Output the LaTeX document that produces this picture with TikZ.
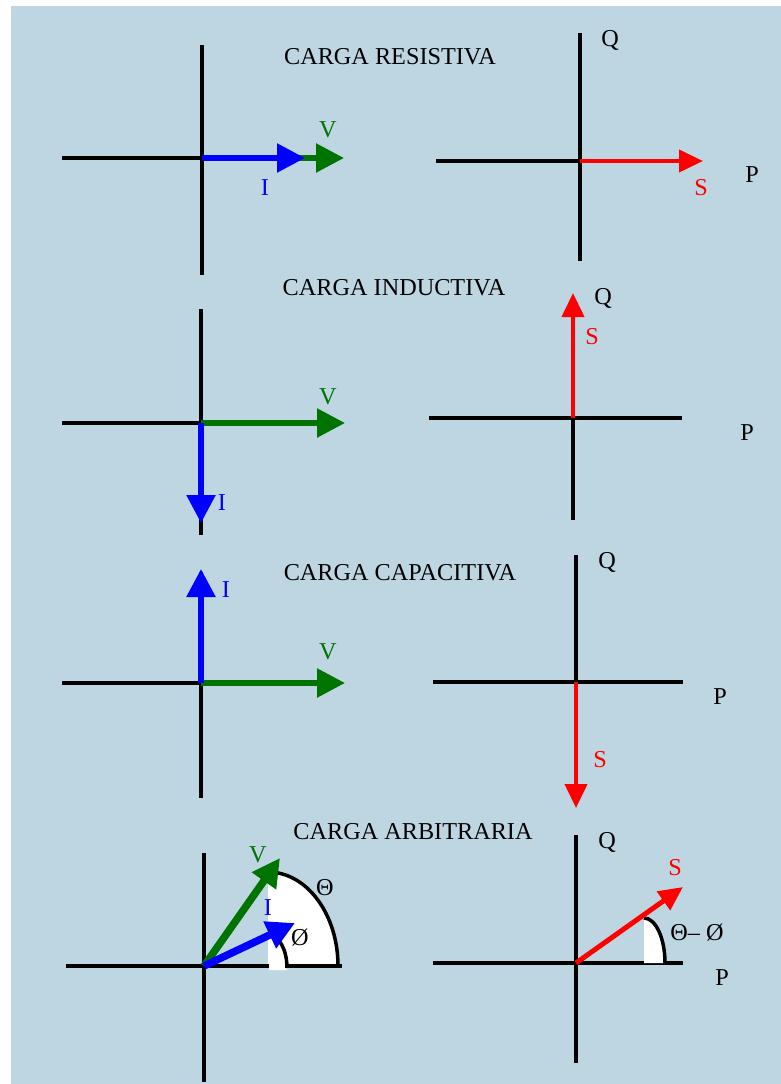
\documentclass[tikz,border=0pt]{standalone}
\usepackage{fontspec}
\setmainfont{Liberation Serif}
\usetikzlibrary{arrows.meta}
\definecolor{fondo}{RGB}{190,214,226}
\definecolor{verde}{RGB}{0,115,0}
\begin{document}
\begin{tikzpicture}[x=0.2mm, y=0.2mm,
 eje/.style={line width=0.8mm},
 vec/.style={line width=1.1mm, -{Triangle[length=5.6mm, width=5.6mm]}},
 svec/.style={line width=0.8mm, red, -{Triangle[length=4.8mm, width=4.4mm]}},
 ang/.style={line width=0.7mm},
 lbl/.style={font=\fontsize{13.8}{16}\selectfont, inner sep=0pt},
]
\useasboundingbox (0,0) rectangle (781,-1084);
\fill[fondo] (11,-6) rectangle (781,-1084);

% carga resistiva
\node[lbl] (tres) at (390,-57) {CARGA RESISTIVA};
\coordinate (ores) at (202,-158);
\coordinate (vres) at (344,-158);
\coordinate (ires) at (305,-158);
\coordinate (pres) at (580,-161);
\coordinate (sres) at (703,-161);
\draw[eje] (202,-45) -- (202,-275);
\draw[eje] (62,-158) -- (ores);
\draw[vec, verde] (ores) -- (vres);
\draw[vec, blue] (ores) -- (ires);
\node[lbl, text=verde] (vlres) at (328,-130) {V};
\node[lbl, text=blue] (ilres) at (265,-188) {I};
\draw[eje] (580,-33) -- (580,-261);
\draw[eje] (436,-161) -- (pres);
\draw[svec] (pres) -- (sres);
\node[lbl] (qres) at (610,-40) {Q};
\node[lbl, text=red] (slres) at (701,-188) {S};
\node[lbl] (plres) at (752,-175) {P};

% carga inductiva
\node[lbl] (tind) at (394,-288) {CARGA INDUCTIVA};
\coordinate (oind) at (201,-423);
\coordinate (vind) at (345,-423);
\coordinate (iind) at (201,-523);
\coordinate (pind) at (573,-418);
\coordinate (sind) at (573,-293);
\draw[eje] (201,-309) -- (201,-535);
\draw[eje] (62,-423) -- (oind);
\draw[vec, verde] (oind) -- (vind);
\draw[vec, blue] (oind) -- (iind);
\node[lbl, text=verde] (vlind) at (328,-397) {V};
\node[lbl, text=blue] (ilind) at (222,-503) {I};
\draw[eje] (573,-298) -- (573,-520);
\draw[eje] (429,-418) -- (682,-418);
\draw[svec] (pind) -- (sind);
\node[lbl] (qind) at (603,-298) {Q};
\node[lbl, text=red] (slind) at (592,-337) {S};
\node[lbl] (plind) at (747,-433) {P};

% carga capacitiva
\node[lbl] (tcap) at (400,-573) {CARGA CAPACITIVA};
\coordinate (ocap) at (201,-683);
\coordinate (vcap) at (345,-683);
\coordinate (icap) at (201,-569);
\coordinate (pcap) at (576,-682);
\coordinate (scap) at (576,-808);
\draw[eje] (201,-572) -- (201,-798);
\draw[eje] (62,-683) -- (ocap);
\draw[vec, verde] (ocap) -- (vcap);
\draw[vec, blue] (ocap) -- (icap);
\node[lbl, text=blue] (ilcap) at (226,-590) {I};
\node[lbl, text=verde] (vlcap) at (328,-652) {V};
\draw[eje] (576,-555) -- (576,-780);
\draw[eje] (433,-682) -- (683,-682);
\draw[svec] (pcap) -- (scap);
\node[lbl] (qcap) at (607,-562) {Q};
\node[lbl, text=red] (slcap) at (600,-760) {S};
\node[lbl] (plcap) at (720,-697) {P};

% carga arbitraria
\node[lbl] (tarb) at (413,-832) {CARGA ARBITRARIA};
\coordinate (oarb) at (204,-966);
\coordinate (varb) at (280,-858);
\coordinate (iarb) at (295,-923);
\coordinate (carb) at (268,-966);
\coordinate (parb) at (576,-963);
\coordinate (sarb) at (683,-887);
\coordinate (cang) at (644,-963);
\fill[white] (carb) -- ++(0,94) arc[start angle=90, end angle=0, x radius=70, y radius=94] -- cycle;
\draw[eje] (204,-853) -- (204,-1082);
\draw[eje] (66,-966) -- (342,-966);
\fill[white] (269,-970) -- (269,-935) arc[start angle=90, end angle=0, x radius=18, y radius=31] -- (287,-970) -- cycle;
\draw[ang] (carb) ++(0,94) arc[start angle=90, end angle=0, x radius=70, y radius=94];
\draw[ang] (269,-935) arc[start angle=90, end angle=0, x radius=18, y radius=33];
\draw[vec, verde, line width=1.5mm] (oarb) -- (varb);
\draw[vec, blue, line width=1.5mm] (oarb) -- (iarb);
\node[lbl, text=verde] (vlarb) at (258,-855) {V};
\node[lbl, text=blue] (ilarb) at (268,-908) {I};
\node[lbl] (tharb) at (325,-888) {Θ};
\node[lbl] (phiarb) at (300,-938) {Ø};
\draw[eje] (576,-835) -- (576,-1063);
\draw[eje] (433,-963) -- (683,-963);
\fill[white] (cang) -- ++(0,45) arc[start angle=90, end angle=0, x radius=21, y radius=45] -- cycle;
\draw[ang] (cang) ++(0,45) arc[start angle=90, end angle=0, x radius=21, y radius=45];
\draw[svec, line width=1mm] (parb) -- (sarb);
\node[lbl, text=red] (slarb) at (675,-868) {S};
\node[lbl] (qarb) at (607,-842) {Q};
\node[lbl] (plarb) at (722,-978) {P};
\node[lbl] (dlarb) at (697,-933) {Θ– Ø};
\end{tikzpicture}
\end{document}
